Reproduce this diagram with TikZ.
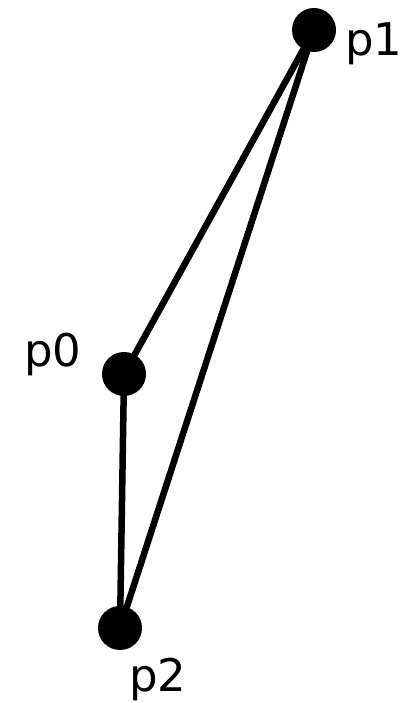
\documentclass[tikz,border=0pt]{standalone}
\usepackage{fontspec}
\setmainfont{DejaVu Sans}
\begin{document}
\begin{tikzpicture}[x=1pt,y=-1pt,
    pt/.style={circle,fill=black,inner sep=0pt,minimum size=44pt},
    lbl/.style={anchor=base west,inner sep=0pt,font=\fontsize{45}{45}\selectfont}]
    \useasboundingbox (0,0) rectangle (403,703);
    \coordinate (c0) at (124,374);
    \coordinate (c1) at (314,30);
    \coordinate (c2) at (120,628);
    \draw [line width=6.5pt,line cap=round] (c0) -- (c1);
    \draw [line width=6.5pt,line cap=round] (c1) -- (c2);
    \draw [line width=6.5pt,line cap=round] (c2) -- (c0);
    \node [pt] (p0) at (c0) {};
    \node [pt] (p1) at (c1) {};
    \node [pt] (p2) at (c2) {};
    \node [lbl] (l1) at (345,56) {p1};
    \node [lbl] (l0) at (24,366) {p0};
    \node [lbl] (l2) at (129,691) {p2};
\end{tikzpicture}
\end{document}
